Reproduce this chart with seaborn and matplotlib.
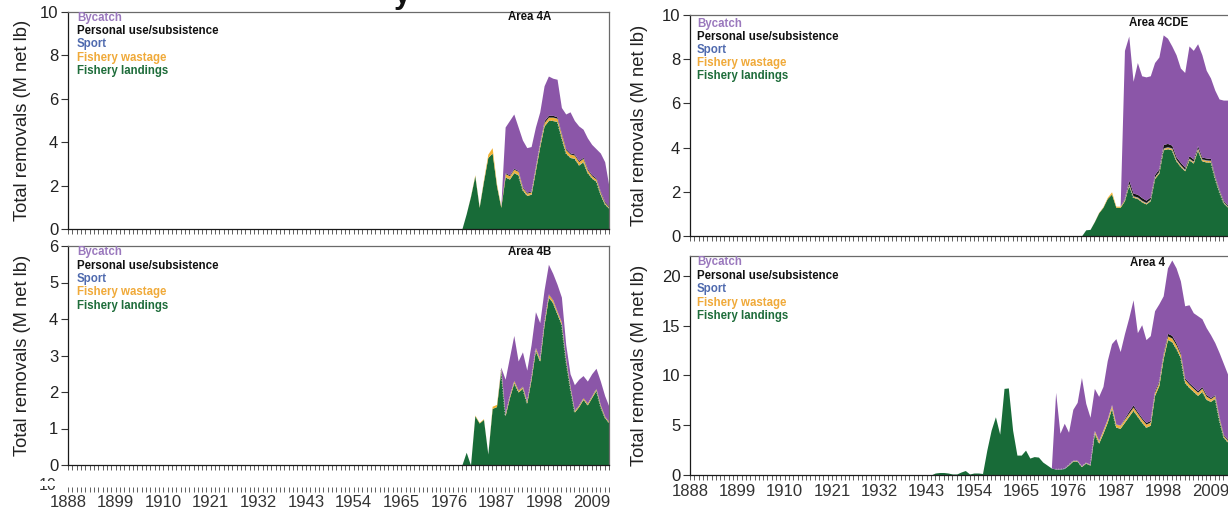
import numpy as np
import matplotlib
matplotlib.use("Agg")
import matplotlib.pyplot as plt
import seaborn as sns
from matplotlib.ticker import MultipleLocator, FixedLocator, NullFormatter
from matplotlib.patches import Rectangle

# ---------------- data ----------------
YEARS = np.arange(1888, 2014)
TICK_YEARS = [1888, 1899, 1910, 1921, 1932, 1943, 1954, 1965, 1976, 1987, 1998, 2009]
SERIES = ["Fishery landings", "Fishery wastage", "Sport",
          "Personal use/subsistence", "Bycatch"]
LEGEND_ORDER = ["Bycatch", "Personal use/subsistence", "Sport",
                "Fishery wastage", "Fishery landings"]

# Area 4A (values from 1979 to 2013, M net lb)
A4A_START = 1979
A4A_LANDINGS = [0.0, 0.7, 1.5, 2.45, 1.0, 2.2, 3.3, 3.5, 2.0, 1.0,
                2.4, 2.3, 2.6, 2.5, 1.8, 1.55, 1.6, 2.7, 3.8, 4.75,
                5.0, 5.0, 4.95, 4.2, 3.5, 3.3, 3.25, 2.95, 3.1, 2.6,
                2.35, 2.2, 1.6, 1.15, 0.95]
A4A_WASTAGE = [0, 0, 0.02, 0.05, 0.03, 0.08, 0.15, 0.25, 0.1, 0.05,
               0.15, 0.15, 0.15, 0.15, 0.1, 0.1, 0.1, 0.12, 0.12, 0.15,
               0.15, 0.15, 0.15, 0.15, 0.15, 0.15, 0.15, 0.15, 0.15, 0.12,
               0.1, 0.1, 0.08, 0.06, 0.05]
A4A_SPORT = [0, 0, 0, 0, 0, 0, 0, 0, 0, 0,
             0.01, 0.01, 0.01, 0.01, 0.01, 0.01, 0.01, 0.01, 0.01, 0.01,
             0.01, 0.01, 0.01, 0.01, 0.01, 0.01, 0.01, 0.01, 0.01, 0.01,
             0.01, 0.01, 0.01, 0.01, 0.01]
A4A_PERSONAL = [0, 0, 0, 0, 0, 0, 0, 0, 0, 0,
                0.04, 0.04, 0.04, 0.04, 0.04, 0.04, 0.04, 0.04, 0.04, 0.08,
                0.08, 0.08, 0.06, 0.05, 0.05, 0.05, 0.05, 0.05, 0.05, 0.05,
                0.05, 0.05, 0.05, 0.05, 0.05]
A4A_BYCATCH = [0, 0, 0, 0, 0, 0, 0, 0, 0, 0,
               2.10, 2.50, 2.50, 2.00, 2.15, 2.05, 2.05, 1.83, 1.43, 1.61,
               1.81, 1.71, 1.73, 1.19, 1.59, 1.89, 1.54, 1.59, 1.29, 1.42,
               1.39, 1.34, 1.76, 1.83, 0.89]

# Area 4B (values from 1979 to 2013)
A4B_START = 1979
A4B_LANDINGS = [0, 0.35, 0, 1.35, 1.15, 1.25, 0.3, 1.55, 1.6, 2.6,
                1.35, 1.85, 2.25, 2.0, 2.1, 1.7, 2.35, 3.15, 2.85, 3.85,
                4.6, 4.45, 4.15, 3.85, 2.85, 2.1, 1.45, 1.6, 1.8, 1.65,
                1.85, 2.05, 1.6, 1.3, 1.15]
A4B_WASTAGE = [0, 0, 0, 0.02, 0.02, 0.02, 0, 0.06, 0.06, 0.05,
               0.05, 0.05, 0.06, 0.05, 0.05, 0.05, 0.06, 0.06, 0.06, 0.07,
               0.08, 0.07, 0.06, 0.06, 0.05, 0.05, 0.04, 0.04, 0.04, 0.04,
               0.04, 0.04, 0.04, 0.03, 0.03]
A4B_SPORT = [0] * 35
A4B_PERSONAL = [0, 0, 0, 0, 0, 0, 0, 0, 0, 0,
                0.01, 0.01, 0.01, 0.01, 0.01, 0.01, 0.01, 0.01, 0.01, 0.01,
                0.01, 0.01, 0.01, 0.01, 0.01, 0.01, 0.01, 0.01, 0.01, 0.01,
                0.01, 0.01, 0.01, 0.01, 0.01]
A4B_BYCATCH = [0, 0, 0, 0, 0, 0, 0, 0, 0, 0.03,
               0.94, 1.04, 1.23, 0.79, 0.94, 0.84, 0.88, 0.98, 0.98, 0.87,
               0.81, 0.72, 0.73, 0.68, 0.39, 0.34, 0.70, 0.70, 0.60, 0.60,
               0.60, 0.55, 0.65, 0.56, 0.41]

# Area 4CDE (values from 1979 to 2013)
A4CDE_START = 1979
A4CDE_LANDINGS = [0, 0.28, 0.3, 0.65, 1.05, 1.3, 1.7, 1.9, 1.3, 1.3,
                  1.6, 2.3, 1.75, 1.7, 1.55, 1.45, 1.6, 2.6, 2.85, 3.9,
                  3.95, 3.9, 3.4, 3.15, 2.95, 3.45, 3.3, 3.9, 3.4, 3.35,
                  3.35, 2.6, 2.0, 1.5, 1.3]
A4CDE_WASTAGE = [0, 0, 0, 0.01, 0.02, 0.03, 0.05, 0.1, 0.05, 0.05,
                 0.05, 0.06, 0.05, 0.05, 0.05, 0.05, 0.05, 0.06, 0.06, 0.07,
                 0.07, 0.07, 0.06, 0.06, 0.05, 0.06, 0.06, 0.07, 0.07, 0.08,
                 0.06, 0.05, 0.04, 0.04, 0.03]
A4CDE_SPORT = [0, 0, 0, 0, 0, 0, 0, 0, 0, 0,
               0.02, 0.02, 0.02, 0.02, 0.02, 0.02, 0.02, 0.02, 0.02, 0.02,
               0.02, 0.02, 0.02, 0.02, 0.02, 0.02, 0.02, 0.02, 0.02, 0.02,
               0.02, 0.02, 0.02, 0.02, 0.02]
A4CDE_PERSONAL = [0, 0, 0, 0, 0, 0, 0, 0, 0, 0,
                  0.05, 0.15, 0.12, 0.12, 0.12, 0.1, 0.1, 0.1, 0.12, 0.15,
                  0.15, 0.12, 0.1, 0.1, 0.1, 0.1, 0.1, 0.1, 0.08, 0.08,
                  0.08, 0.06, 0.05, 0.05, 0.05]
A4CDE_BYCATCH = [0, 0, 0, 0, 0, 0, 0, 0, 0, 0,
                 6.68, 6.52, 5.06, 5.96, 5.51, 5.58, 5.48, 5.07, 5.05, 4.96,
                 4.76, 4.49, 4.62, 4.27, 4.28, 4.97, 4.92, 4.61, 4.63, 3.97,
                 3.64, 3.87, 4.09, 4.54, 4.75]

# Area 4 (values from 1944 to 2013)
A4_START = 1944
A4_LANDINGS = [0.0, 0.2, 0.25, 0.25, 0.2, 0.1, 0.1, 0.3, 0.45, 0.1,
               0.2, 0.2, 0.15, 2.5, 4.5, 5.85, 4.1, 8.7, 8.75, 4.5,
               2.0, 2.0, 2.5, 1.7, 1.85, 1.8, 1.3, 1.0, 0.7, 0.6,
               0.6, 0.65, 1.0, 1.4, 1.4, 0.85, 1.2, 1.0, 4.2, 3.2,
               4.2, 5.3, 6.7, 4.8, 4.7, 5.3, 5.9, 6.5, 5.9, 5.3,
               4.8, 5.0, 8.0, 9.0, 11.7, 13.6, 13.4, 12.7, 11.8, 9.3,
               8.8, 8.4, 8.0, 8.4, 7.6, 7.4, 7.7, 5.5, 3.8, 3.3]
A4_WASTAGE = [0] * 32 + [0.05, 0.05, 0.05, 0.05, 0.05, 0.05,
                         0.25, 0.25, 0.3, 0.3, 0.35, 0.3, 0.3, 0.3, 0.3, 0.3,
                         0.3, 0.3, 0.3, 0.3, 0.3, 0.3, 0.35, 0.35, 0.35, 0.35,
                         0.3, 0.3, 0.3, 0.3, 0.3, 0.3, 0.3, 0.25, 0.25, 0.2,
                         0.15, 0.15]
A4_SPORT = [0] * 31 + [0.03] * 39
A4_PERSONAL = [0] * 45 + [0.1, 0.2, 0.2, 0.15, 0.15, 0.15, 0.15, 0.15, 0.15,
                          0.2, 0.25, 0.25, 0.2, 0.15, 0.15, 0.15, 0.15, 0.15,
                          0.15, 0.15, 0.1, 0.1, 0.1, 0.1, 0.1]
A4_BYCATCH = [0] * 29 + [7.7, 3.6, 4.52, 3.22, 5.12, 5.82, 8.87, 5.92, 4.72,
                         4.22, 4.42, 4.37, 5.87, 6.12, 8.57, 7.37, 8.47, 9.37,
                         10.57, 7.92, 9.32, 8.32, 8.52, 8.02, 7.72, 5.72, 6.57,
                         7.57, 7.52, 7.22, 7.22, 7.82, 7.42, 7.52, 6.82, 6.72,
                         6.32, 5.22, 6.47, 7.12, 6.52]

PANELS = [
    ("Area 4A", A4A_START, [A4A_LANDINGS, A4A_WASTAGE, A4A_SPORT, A4A_PERSONAL, A4A_BYCATCH]),
    ("Area 4B", A4B_START, [A4B_LANDINGS, A4B_WASTAGE, A4B_SPORT, A4B_PERSONAL, A4B_BYCATCH]),
    ("Area 4CDE", A4CDE_START, [A4CDE_LANDINGS, A4CDE_WASTAGE, A4CDE_SPORT, A4CDE_PERSONAL, A4CDE_BYCATCH]),
    ("Area 4", A4_START, [A4_LANDINGS, A4_WASTAGE, A4_SPORT, A4_PERSONAL, A4_BYCATCH]),
]

FILL = {"Fishery landings": "#186b38", "Fishery wastage": "#f2b233",
        "Sport": "#4d6fb5", "Personal use/subsistence": "#141414",
        "Bycatch": "#8b56a8"}
LABEL_COL = {"Bycatch": "#9a78bd", "Personal use/subsistence": "#111111",
             "Sport": "#4f6aae", "Fishery wastage": "#f0aa3a",
             "Fishery landings": "#1f6d3b"}


def full(start, vals):
    out = np.zeros(len(YEARS))
    i = start - YEARS[0]
    out[i:i + len(vals)] = vals
    return out


# ---------------- figure ----------------
sns.set_theme(style="ticks")
plt.rcParams["font.family"] = ["Liberation Sans", "DejaVu Sans"]

W, H = 1228, 512
fig = plt.figure(figsize=(W / 100, H / 100), dpi=100)
fig.patch.set_facecolor("white")


def rect(x0, x1, ytop, ybot):
    return [x0 / W, 1 - ybot / H, (x1 - x0) / W, (ybot - ytop) / H]


layout = {
    "Area 4A": dict(r=rect(68, 609, 12, 229), xmax=2013, ymax=10, yt=[0, 2, 4, 6, 8, 10],
                    lab=False, dx=9, dy0=5.6, step=13.3, ax_lab=(462, 5.5), yl=-0.069),
    "Area 4B": dict(r=rect(68, 609, 246, 465), xmax=2013, ymax=6, yt=[0, 1, 2, 3, 4, 5, 6],
                    lab=False, dx=9, dy0=6.5, step=13.3, ax_lab=(462, 6.0), yl=-0.069),
    "Area 4CDE": dict(r=rect(690, 1232, 15, 236), xmax=2014, ymax=10, yt=[0, 2, 4, 6, 8, 10],
                      lab=False, dx=7, dy0=8.5, step=13.1, ax_lab=(469, 8.0), yl=-0.078),
    "Area 4": dict(r=rect(690, 1232, 256, 475), xmax=2014, ymax=22, yt=[0, 5, 10, 15, 20],
                   lab=True, dx=7, dy0=6.5, step=13.35, ax_lab=(457, 7.0), yl=-0.078),
}


def style_xaxis(ax, xmax, labels, pad=3.0):
    ax.set_xlim(1888, xmax)
    ax.xaxis.set_major_locator(FixedLocator(TICK_YEARS))
    ax.xaxis.set_minor_locator(MultipleLocator(1))
    ax.tick_params(axis="x", which="both", direction="out", length=3.8,
                   width=0.6, color="#444444", labelsize=12,
                   labelcolor="#333333", pad=pad)
    if not labels:
        ax.xaxis.set_major_formatter(NullFormatter())


for name, start, vals in PANELS:
    cfg = layout[name]
    ax = fig.add_axes(cfg["r"])
    ax.set_facecolor("white")
    series = [full(start, v) for v in vals]
    ax.stackplot(YEARS, *series, colors=[FILL[s] for s in SERIES],
                 linewidth=0, zorder=2)
    # light dotted edge along the landings where bycatch sits on top
    land = series[0]
    byc = series[4]
    mask = byc > 0
    if mask.any():
        sns.lineplot(x=YEARS[mask], y=land[mask], ax=ax, color="#b8b8b8",
                     lw=0.7, linestyle=":", zorder=3, legend=False)
    ax.set_ylim(0, cfg["ymax"])
    ax.set_yticks(cfg["yt"])
    ax.tick_params(axis="y", direction="out", length=5, width=0.8,
                   color="#333333", labelsize=12, labelcolor="#222222", pad=2)
    style_xaxis(ax, cfg["xmax"], cfg["lab"])
    for side in ["left", "bottom"]:
        ax.spines[side].set_color("#1a1a1a")
        ax.spines[side].set_linewidth(0.9)
    for side in ["top", "right"]:
        ax.spines[side].set_color("#6a6a6a")
        ax.spines[side].set_linewidth(0.9)
    ax.set_ylabel("Total removals (M net lb)", fontsize=13.2, color="#222222")
    ax.yaxis.set_label_coords(cfg["yl"], 0.5)
    ax.set_xlabel("")
    # legend-like coloured labels
    for i, s in enumerate(LEGEND_ORDER):
        ax.annotate(s, xy=(0, 1), xycoords="axes fraction",
                    xytext=(cfg["dx"], -cfg["dy0"] - cfg["step"] * i),
                    textcoords="offset pixels", ha="left", va="center",
                    fontsize=8.3, fontweight="bold", color=LABEL_COL[s])
    lx, ly = cfg["ax_lab"]
    ax.annotate(name, xy=(0, 1), xycoords="axes fraction",
                xytext=(lx, -ly), textcoords="offset pixels",
                ha="center", va="center", fontsize=8.3, fontweight="bold",
                color="#111111")

# strip of year labels under the left column (remnant of a hidden panel)
strip = fig.add_axes(rect(68, 609, 486, 487))
strip.set_facecolor("none")
for side in strip.spines.values():
    side.set_visible(False)
strip.set_yticks([])
style_xaxis(strip, 2013, True, pad=2.0)

# partially hidden tick label of that panel
fig.text(57 / W, 1 - 486 / H, "10", ha="right", va="center", fontsize=11.5,
         color="#333333", zorder=3)
fig.patches.append(Rectangle((20 / W, 1 - 485.5 / H), 45 / W, 5.0 / H,
                             transform=fig.transFigure, facecolor="white",
                             edgecolor="none", zorder=4))

# clipped title remnant at the very top
fig.text(402 / W, 1 - 3.0 / H, "y", ha="center", va="baseline", fontsize=22,
         fontweight="bold", color="#111111")

fig.savefig("out.png", dpi=100, facecolor="white")
